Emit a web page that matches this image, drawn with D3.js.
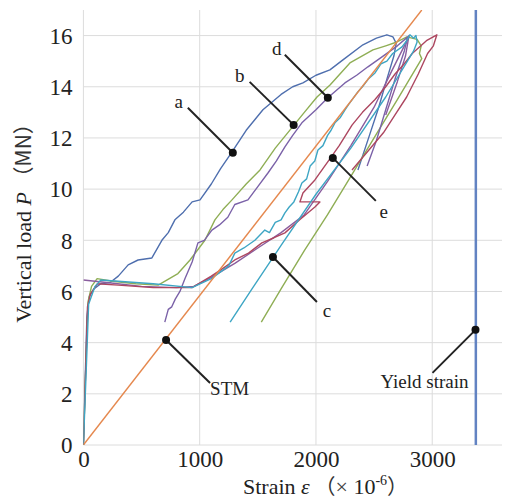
<!DOCTYPE html>
<html>
<head>
<meta charset="utf-8">
<script src="https://cdn.jsdelivr.net/npm/d3@7"></script>
<style>
  body { margin: 0; background: #fff; }
  svg text { font-family: "Liberation Serif", "Times New Roman", serif; fill: #222; }
</style>
</head>
<body>
<div id="chart"></div>
<script>
// strain (x 10^-6) / vertical load (MN)
const curveA = [[0,0],[15,2.5],[30,5.0],[50,5.8],[90,6.1],[150,6.3],[230,6.35],[300,6.6],[385,7.04],[470,7.23],[589,7.31],[675,8.0],[730,8.3],[787,8.8],[860,9.1],[935,9.5],[1003,9.58],[1100,10.2],[1180,10.8],[1261,11.34],[1400,12.3],[1544,13.1],[1700,13.7],[1800,14.0],[1888,14.15],[2000,14.45],[2120,14.66],[2232,15.05],[2404,15.64],[2520,15.9],[2610,16.03],[2662,15.95],[2690,15.7],[2670,15.2],[2610,14.3],[2540,13.2],[2460,12.1],[2361,10.75]];
const curveB = [[0,0],[20,3],[40,5.6],[70,6.2],[118,6.5],[250,6.4],[450,6.3],[643,6.25],[813,6.7],[917,7.23],[1045,8.0],[1131,8.8],[1200,9.2],[1278,9.58],[1400,10.2],[1519,10.75],[1650,11.6],[1811,12.5],[1900,13.0],[2009,13.6],[2121,14.07],[2292,14.93],[2490,15.44],[2600,15.6],[2696,15.75],[2782,15.95],[2870,15.85],[2905,15.6],[2890,15.3],[2910,15.1],[2700,13.5],[2500,12.0],[2300,10.5],[2100,9.0],[1900,7.6],[1700,6.1],[1530,4.8]];
const curveC = [[0,0],[25,3],[45,5.5],[100,6.2],[150,6.45],[300,6.4],[600,6.3],[934,6.15],[1100,6.5],[1250,7.0],[1302,7.5],[1380,7.7],[1475,8.0],[1560,8.4],[1600,8.3],[1650,8.7],[1700,8.8],[1733,9.07],[1770,9.3],[1810,9.5],[1850,9.9],[1879,10.24],[1920,10.4],[1950,10.9],[1990,11.1],[2017,11.53],[2060,11.7],[2100,12.1],[2130,12.3],[2163,12.59],[2210,12.8],[2250,13.1],[2280,13.3],[2310,13.49],[2360,13.8],[2400,14.0],[2450,14.3],[2508,14.54],[2560,14.9],[2610,15.0],[2660,15.3],[2740,15.56],[2780,15.8],[2808,16.03],[2840,15.9],[2860,16.0],[2870,15.75],[2840,15.4],[2600,13.6],[2300,11.6],[2000,9.8],[1700,7.8],[1450,6.1],[1262,4.8]];
const curveD = [[700,4.8],[730,5.3],[760,5.4],[790,5.7],[830,6.0],[873,6.5],[935,7.15],[985,7.9],[1040,8.0],[1105,8.4],[1170,8.6],[1242,8.9],[1302,9.4],[1415,9.58],[1500,10.1],[1587,10.63],[1660,11.1],[1733,11.65],[1800,12.1],[1879,12.59],[2000,13.1],[2102,13.57],[2249,14.15],[2350,14.45],[2447,14.78],[2568,15.17],[2700,15.6],[2790,15.95],[2760,15.4],[2680,14.3],[2600,13.1],[2520,11.9],[2440,10.9]];
const curveE = [[0,0],[20,3],[35,5.4],[60,5.9],[120,6.3],[300,6.25],[600,6.15],[934,6.15],[1100,6.6],[1200,6.9],[1302,7.23],[1420,7.5],[1535,7.9],[1640,8.1],[1733,8.29],[1860,8.8],[1991,9.3],[2034,9.5],[1862,9.5],[1888,9.85],[1991,10.36],[2138,11.3],[2200,11.7],[2310,12.5],[2400,13.0],[2508,13.5],[2600,14.0],[2680,14.5],[2760,14.9],[2828,15.3],[2950,15.8],[3040,16.03],[3010,15.6],[2960,15.3],[2880,14.5],[2780,13.6],[2680,12.9],[2580,12.2],[2450,11.5],[2310,10.75]];
const curveF = [[0,6.45],[200,6.35],[500,6.2],[800,6.15],[950,6.2],[1100,6.55],[1302,7.1],[1500,7.7],[1700,8.3],[1900,9.0],[2100,10.3],[2300,11.7],[2500,13.2],[2650,14.6],[2760,15.6],[2800,16.0],[2770,15.2],[2700,14.2],[2600,12.9]];
const stmLine = [[0,0],[2910,17]];
const yieldStrain = 3375;

const xTicks = [0, 1000, 2000, 3000];
const yTicks = [0, 2, 4, 6, 8, 10, 12, 14, 16];

const series = [
	{ name: 'a', values: curveA, colour: '#4f6fae' },
	{ name: 'b', values: curveB, colour: '#8fae55' },
	{ name: 'f', values: curveF, colour: '#8a5d9e' },
	{ name: 'd', values: curveD, colour: '#7b62a8' },
	{ name: 'e', values: curveE, colour: '#ad4760' },
	{ name: 'c', values: curveC, colour: '#3ea6c4' },
	{ name: 'STM', values: stmLine, colour: '#e5884e' }
];

// label anchors: the point on the curve, then the label text
const notes = [
	{ text: 'a', x: 1285, y: 11.42 },
	{ text: 'b', x: 1808, y: 12.51 },
	{ text: 'd', x: 2102, y: 13.57 },
	{ text: 'e', x: 2145, y: 11.22 },
	{ text: 'c', x: 1630, y: 7.35 },
	{ text: 'STM', x: 711, y: 4.1 },
	{ text: 'Yield strain', x: 3372, y: 4.5 }
];

// leader offsets (px) and label placement
const noteLayout = {
	'a': { dx: -45, dy: -45, lx: -54, ly: -45, anchor: 'middle' },
	'b': { dx: -44, dy: -43, lx: -54, ly: -43, anchor: 'middle' },
	'd': { dx: -43, dy: -43, lx: -51, ly: -43, anchor: 'middle' },
	'e': { dx: 43, dy: 43, lx: 51, ly: 60, anchor: 'middle' },
	'c': { dx: 44, dy: 45, lx: 54, ly: 60, anchor: 'middle' },
	'STM': { dx: 44, dy: 43, lx: 44, ly: 55, anchor: 'start' },
	'Yield strain': { dx: -43, dy: 43, lx: -51, ly: 58, anchor: 'middle' }
};

const config = { width: 506, height: 500, left: 83.4, right: 502, top: 10, bottom: 445 };

const svg = d3.select('#chart')
	.append('svg')
	.attr('width', config.width)
	.attr('height', config.height);

const x = d3.scaleLinear().domain([0, 3600]).range([config.left, config.right]);
const y = d3.scaleLinear().domain([0, 17]).range([config.bottom, config.top]);

// grid
const grid = svg.append('g').attr('stroke', '#dcdcdc').attr('stroke-width', 1);
grid.selectAll('.hg').data(yTicks).enter().append('line')
	.attr('x1', config.left).attr('x2', config.right)
	.attr('y1', d => y(d)).attr('y2', d => y(d));
grid.selectAll('.vg').data(xTicks).enter().append('line')
	.attr('y1', config.top).attr('y2', config.bottom)
	.attr('x1', d => x(d)).attr('x2', d => x(d));

// axes (labels only)
const xAxis = svg.append('g')
	.attr('transform', `translate(0,${config.bottom})`)
	.call(d3.axisBottom(x).tickValues(xTicks).tickFormat(d3.format('d')).tickSize(0).tickPadding(6));
const yAxis = svg.append('g')
	.attr('transform', `translate(${config.left},0)`)
	.call(d3.axisLeft(y).tickValues(yTicks).tickSize(0).tickPadding(11));
[xAxis, yAxis].forEach(g => {
	g.select('.domain').remove();
	g.selectAll('text').attr('font-size', 23).attr('font-family', '"Liberation Serif", serif').attr('fill', '#222');
});
yAxis.selectAll('text').attr('dy', '0.34em');

// clip
svg.append('clipPath').attr('id', 'plot')
	.append('rect')
	.attr('x', config.left).attr('y', config.top)
	.attr('width', config.right - config.left).attr('height', config.bottom - config.top);

const line = d3.line()
	.x(d => x(d[0]))
	.y(d => y(d[1]));

const curves = svg.append('g').attr('clip-path', 'url(#plot)');
curves.selectAll('path')
	.data(series)
	.enter()
	.append('path')
		.attr('d', d => line(d.values))
		.attr('fill', 'none')
		.attr('stroke', d => d.colour)
		.attr('stroke-width', 1.4)
		.attr('stroke-linejoin', 'round');

// yield strain
curves.append('line')
	.attr('x1', x(yieldStrain)).attr('x2', x(yieldStrain))
	.attr('y1', config.top).attr('y2', config.bottom)
	.attr('stroke', '#6283c2')
	.attr('stroke-width', 2.5);

// annotations
const noteG = svg.append('g');
notes.forEach(n => {
	const l = noteLayout[n.text];
	const px = x(n.x), py = y(n.y);
	noteG.append('line')
		.attr('x1', px).attr('y1', py)
		.attr('x2', px + l.dx).attr('y2', py + l.dy)
		.attr('stroke', '#222')
		.attr('stroke-width', 2);
	noteG.append('circle')
		.attr('cx', px).attr('cy', py).attr('r', 4)
		.attr('fill', '#111');
	noteG.append('text')
		.attr('x', px + l.lx).attr('y', py + l.ly)
		.attr('text-anchor', l.anchor)
		.attr('font-size', 19)
		.text(n.text);
});

// axis titles
const xTitle = svg.append('text')
	.attr('x', 243).attr('y', 494)
	.attr('font-size', 22);
xTitle.append('tspan').text('Strain ');
xTitle.append('tspan').attr('font-style', 'italic').text('ε');
xTitle.append('tspan').attr('font-family', '"Noto Sans CJK SC", serif').attr('font-size', 21).attr('fill', '#333').text('  （');
xTitle.append('tspan').attr('fill', '#444').text('×');
xTitle.append('tspan').text(' 10');
xTitle.append('tspan').attr('font-size', 14).attr('dy', -9).text('-6');
xTitle.append('tspan').attr('dy', 9).attr('font-family', '"Noto Sans CJK SC", serif').attr('font-size', 21).attr('fill', '#333').text('）');

const yTitle = svg.append('text')
	.attr('transform', 'translate(31,218) rotate(-90)')
	.attr('text-anchor', 'middle')
	.attr('font-size', 22);
yTitle.append('tspan').text('Vertical load ');
yTitle.append('tspan').attr('font-style', 'italic').text('P');
yTitle.append('tspan').attr('font-family', '"Noto Sans CJK SC", serif').attr('font-size', 21).attr('fill', '#333').text(' （MN）');
</script>
</body>
</html>
